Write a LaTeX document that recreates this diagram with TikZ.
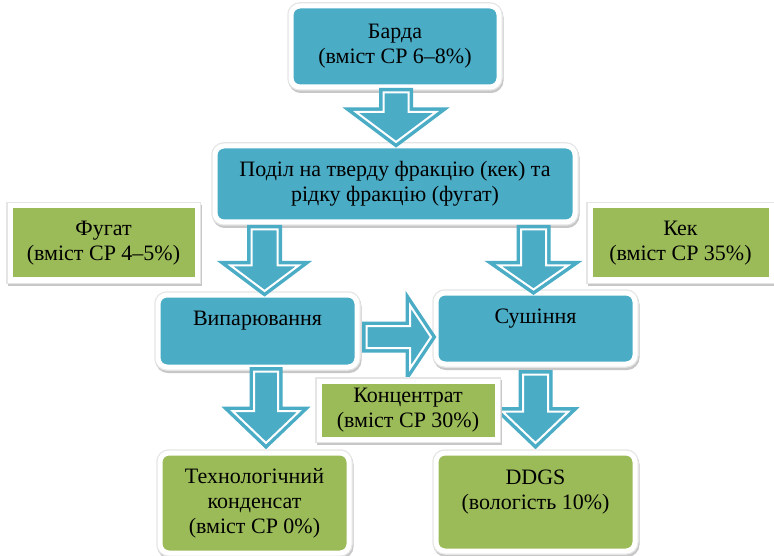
\documentclass[tikz,border=0pt]{standalone}
\usepackage{fontspec}
\setmainfont{Liberation Serif}
\usetikzlibrary{calc}
\definecolor{tealbox}{HTML}{4BACC6}
\definecolor{greenbox}{HTML}{9BBB59}
\newcommand\blkarrow[5]{% #1 start, #2 tip, #3 shaft half width, #4 head half width, #5 head length
  \coordinate (bah) at ($(#2)!#5!(#1)$);
  \draw[blockarrow] ($(#1)!#3!90:(#2)$) -- ($(bah)!#3!-90:(#1)$) -- ($(bah)!#4!-90:(#1)$)
    -- (#2) -- ($(bah)!#4!90:(#1)$) -- ($(bah)!#3!90:(#1)$) -- ($(#1)!#3!-90:(#2)$) -- cycle;}
\tikzset{
  boxbase/.style={draw=white, line width=5pt, outer sep=0pt, inner sep=0pt, align=center,
    font=\rmfamily\fontsize{22}{25}\selectfont, text=black,
    preaction={draw=black!22, line width=7pt, transform canvas={shift={(1pt,-2.5pt)}}},
    preaction={draw=black!10, line width=7.5pt}},
  tbox/.style={boxbase, fill=tealbox, rounded corners=9pt},
  gbox/.style={boxbase, fill=greenbox},
  gboxr/.style={gbox, rounded corners=9pt},
  blockarrow/.style={fill=tealbox, draw=tealbox, line width=3.5pt, double=white,
    double distance=2pt, line join=miter}
}
\begin{document}
\begin{tikzpicture}[x=1pt, y=-1pt]
\useasboundingbox[fill=white] (0,0) rectangle (774,556);
% boxes
\node[tbox, minimum width=208pt, minimum height=81pt] (barda) at (395,46.5)
  {Барда\\(вміст СР 6–8\%)};
\node[tbox, minimum width=360pt, minimum height=76pt] (podil) at (395,184)
  {Поділ на тверду фракцію (кек) та\\рідку фракцію (фугат)};
\node[gbox, minimum width=187pt, minimum height=74pt] (fugat) at (103.5,243)
  {Фугат\\(вміст СР 4–5\%)};
\node[gbox, minimum width=181pt, minimum height=74pt] (kek) at (680.5,243)
  {Кек\\(вміст СР 35\%)};
\node[tbox, minimum width=199pt, minimum height=72pt] (vyp) at (257.5,331)
  {Випарювання\\\mbox{}};
\node[tbox, minimum width=199pt, minimum height=71pt] (sush) at (535.5,328.5)
  {Сушіння\\\mbox{}};
\node[gboxr, minimum width=189pt, minimum height=100pt] (tech) at (254.5,503)
  {Технологічний\\конденсат\\(вміст СР 0\%)};
\node[gboxr, minimum width=199pt, minimum height=98pt] (ddgs) at (535.5,502)
  {DDGS\\(вологість 10\%)\\\mbox{}};
% arrow end points
\coordinate (a1s) at ($(barda.south)+(1,5.5)$);
\coordinate (a1e) at ($(a1s |- podil.north)+(0,-4)$);
\coordinate (a2s) at ($(podil.south -| vyp.north)+(7,7.5)$);
\coordinate (a2e) at ($(a2s |- vyp.north)+(0,-4)$);
\coordinate (a3s) at ($(podil.south -| sush.north)+(-2,7.5)$);
\coordinate (a3e) at ($(a3s |- sush.north)+(0,-3.5)$);
\coordinate (a4s) at ($(vyp.east)+(9.5,6)$);
\coordinate (a4e) at ($(a4s -| sush.west)+(-5,0)$);
\coordinate (a5s) at ($(vyp.south)+(8.5,4.5)$);
\coordinate (a5e) at ($(a5s |- tech.north)+(0,-10)$);
\coordinate (a6s) at ($(sush.south)+(0,10.5)$);
\coordinate (a6e) at ($(a6s |- ddgs.north)+(0,-10)$);
% arrows
\blkarrow{a1s}{a1e}{12.5pt}{40pt}{30pt}
\blkarrow{a2s}{a2e}{13pt}{34pt}{25.5pt}
\blkarrow{a3s}{a3e}{12.5pt}{34.5pt}{24pt}
\blkarrow{a4s}{a4e}{11pt}{31.5pt}{21pt}
\blkarrow{a5s}{a5e}{12pt}{33.5pt}{32pt}
\blkarrow{a6s}{a6e}{12.5pt}{33pt}{31.5pt}
\node[gbox, minimum width=178pt, minimum height=58pt] (konc) at (408,410)
  {Концентрат\\(вміст СР 30\%)};
\end{tikzpicture}
\end{document}
